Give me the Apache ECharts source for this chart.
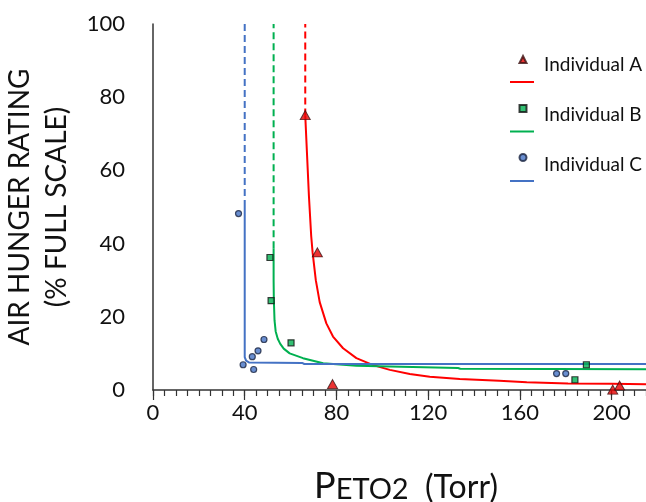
<!DOCTYPE html>
<html>
<head>
<meta charset="utf-8">
<script src="https://cdn.jsdelivr.net/npm/echarts@6/dist/echarts.min.js"></script>
<style>
  html, body { margin: 0; padding: 0; background: #fff; }
  #chart { width: 646px; height: 502px; }
</style>
</head>
<body>
<div id="chart"></div>
<script>
// measured points (PETO2 Torr, air hunger %)
const pointsA = [[66.4, 75.1], [71.7, 37.6], [78.3, 1.6], [200.5, 0.1], [203.5, 1.2]];
const pointsB = [[51.0, 36.2], [51.5, 24.4], [60.2, 12.9], [184.0, 2.8], [189.0, 6.9]];
const pointsC = [[37.3, 48.2], [39.3, 6.9], [43.3, 9.1], [43.9, 5.6], [45.8, 10.7], [48.4, 13.8], [176.0, 4.5], [180.0, 4.5]];

// fitted curves
const fitA = [[66.4, 75], [67.2, 64], [68, 53], [69, 42], [69.6, 37.6], [71, 30], [72.7, 24], [75.6, 18.2],
  [78.5, 14.6], [82.9, 11.4], [88.7, 8.7], [96, 6.8], [103.3, 5.5], [112, 4.4], [120.7, 3.6],
  [133.8, 3.0], [151, 2.5], [163, 2.1], [181, 1.8], [200, 1.7], [215, 1.6]];
const fitB = [[52.6, 38.7], [52.6, 30], [52.7, 24.6], [53, 19], [53.5, 16], [54.4, 14], [55.5, 12.6],
  [57, 11.3], [59.6, 10], [65.4, 8.7], [74.2, 7.3], [88.7, 6.6], [103.3, 6.4], [133, 6.0], [134, 5.8], [215, 5.7]];
const fitC = [[40, 50], [40, 9], [40.6, 8.0], [42, 7.5], [65, 7.4], [66, 7.1], [215, 7.1]];

// asymptotes (dashed)
const asymA = [[66.4, 75], [66.4, 100]];
const asymB = [[52.6, 38.7], [52.6, 100]];
const asymC = [[40, 50], [40, 100]];

const xTicks = [0, 40, 80, 120, 160, 200];
const names = ['Individual A', 'Individual B', 'Individual C'];
const fitNames = ['Fit A', 'Fit B', 'Fit C'];

const RED = '#ff0000';
const GREEN = '#00b050';
const BLUE = '#4472c4';
const FONT = 'Lato';

const chart = echarts.init(document.getElementById('chart'), null, { renderer: 'canvas' });

function fitLine(name, data, color) {
  return {
    name: name, type: 'line', data: data, symbol: 'none', showSymbol: false,
    lineStyle: { color: color, width: 2 }, itemStyle: { color: color }, z: 2, silent: true
  };
}
function dashLine(data, color) {
  return {
    type: 'line', data: data, symbol: 'none', showSymbol: false,
    lineStyle: { color: color, width: 2, type: [7, 4] }, z: 2, silent: true
  };
}

chart.setOption({
  animation: false,
  grid: { left: 153, right: 0, top: 24, bottom: 112, containLabel: false, outerBoundsMode: 'none' },
  textStyle: { fontFamily: FONT },
  legend: [
    // marker icons only
    {
      data: names, orient: 'vertical', left: 518.5, top: 55, padding: 0,
      itemWidth: 7, itemHeight: 7, itemGap: 40, selectedMode: false,
      formatter: function () { return ''; },
      textStyle: { fontSize: 2, lineHeight: 2 }
    },
    // fit line icons only
    {
      data: fitNames, orient: 'vertical', left: 510, top: 81, padding: 0,
      icon: 'rect', itemWidth: 24, itemHeight: 2, itemGap: 47.5, selectedMode: false,
      formatter: function () { return ''; },
      textStyle: { fontSize: 2, lineHeight: 2 }
    },
    // labels
    {
      data: names, orient: 'vertical', left: 538, top: 54, padding: 0,
      icon: 'none', itemWidth: 1, itemHeight: 2, itemGap: 28, selectedMode: false,
      textStyle: { fontFamily: FONT, fontSize: 19, lineHeight: 22, color: '#111' }
    }
  ],
  // x-axis title in small caps style
  graphic: [{
    type: 'text', x: 406, y: 462, silent: true,
    style: {
      text: '{p|P}{s|ETO2}{t|  (Torr)}', align: 'center', verticalAlign: 'top',
      rich: {
        p: { fontFamily: FONT, fontSize: 36, lineHeight: 42, fill: '#111', verticalAlign: 'bottom' },
        s: { fontFamily: FONT, fontSize: 29, lineHeight: 34, fill: '#111', verticalAlign: 'bottom' },
        t: { fontFamily: FONT, fontSize: 32, lineHeight: 37, fill: '#111', verticalAlign: 'bottom' }
      }
    }
  }],
  xAxis: [
    {
      type: 'value', min: 0, max: 215, interval: 40,
      axisLine: { onZero: false, lineStyle: { color: '#333', width: 1.5 } },
      axisTick: { customValues: xTicks, length: 10, lineStyle: { color: '#333', width: 1.2 } },
      axisLabel: { customValues: xTicks, margin: 12, fontFamily: FONT, fontSize: 22, color: '#111' },
      splitLine: { show: false }
    },
    {
      type: 'value', min: 0, max: 215, interval: 5, position: 'bottom',
      axisLine: { show: false },
      axisTick: { length: 6, lineStyle: { color: '#333', width: 1.2 } },
      axisLabel: { show: false },
      splitLine: { show: false }
    }
  ],
  yAxis: {
    type: 'value', min: 0, max: 100, interval: 20,
    name: 'AIR HUNGER RATING\n(% FULL SCALE)', nameLocation: 'middle', nameRotate: 90, nameGap: 70,
    nameTextStyle: { fontFamily: FONT, fontSize: 28, lineHeight: 37, color: '#111', align: 'center' },
    axisLine: { show: true, lineStyle: { color: '#333', width: 1.5 } },
    axisTick: { show: false },
    axisLabel: { margin: 28, fontFamily: FONT, fontSize: 22, color: '#111' },
    splitLine: { show: false }
  },
  series: [
    dashLine(asymA, RED),
    dashLine(asymB, GREEN),
    dashLine(asymC, BLUE),
    fitLine(fitNames[0], fitA, RED),
    fitLine(fitNames[1], fitB, GREEN),
    fitLine(fitNames[2], fitC, BLUE),
    {
      name: names[0], type: 'scatter', data: pointsA, symbol: 'triangle', symbolSize: [10, 9], z: 5,
      itemStyle: { color: '#e60000', borderColor: '#3a1010', borderWidth: 1 }
    },
    {
      name: names[1], type: 'scatter', data: pointsB, symbol: 'rect', symbolSize: 6, z: 5,
      itemStyle: { color: '#00b050', borderColor: '#111', borderWidth: 1.2 }
    },
    {
      name: names[2], type: 'scatter', data: pointsC, symbol: 'circle', symbolSize: 6, z: 5,
      itemStyle: { color: '#4472c4', borderColor: '#1a2440', borderWidth: 1.2 }
    }
  ]
});
</script>
</body>
</html>
